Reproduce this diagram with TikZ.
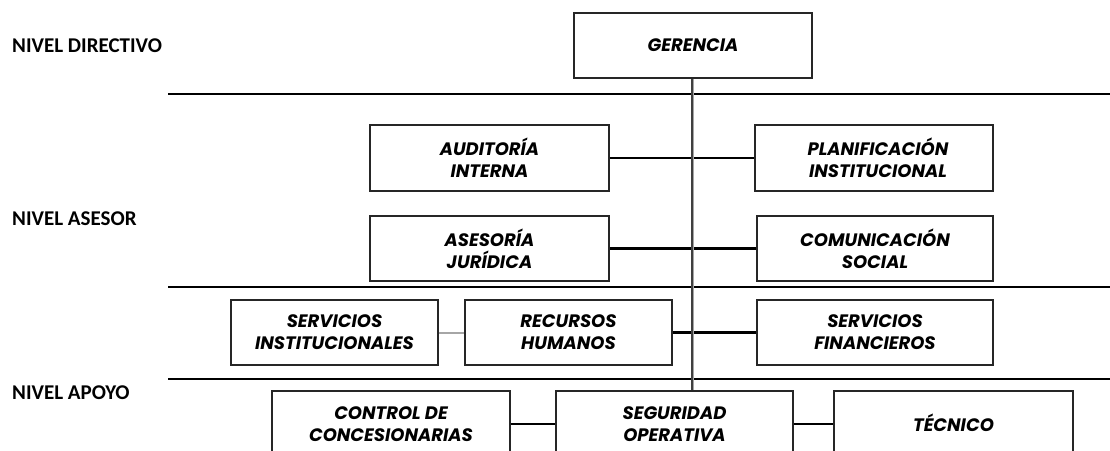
\documentclass[tikz,border=0pt]{standalone}
\usepackage{fontspec}
\setmainfont{Carlito}
\newfontfamily\boxfamily{Poppins}
\tikzset{
  orgbox/.style={draw=black!85, line width=1.5pt, fill=white, inner sep=0pt, align=center,
    minimum height=65pt, font=\boxfamily\bfseries\itshape\fontsize{18}{22}\selectfont},
  levellbl/.style={anchor=west, inner sep=0pt, font=\bfseries\fontsize{21}{24}\selectfont},
  levelline/.style={line width=1.4pt, black},
  link/.style={line width=2.2pt, black},
  thinlink/.style={line width=1.3pt, black},
  graylink/.style={line width=2pt, gray!70},
}
\begin{document}
\begin{tikzpicture}[x=1pt,y=-1pt]
\useasboundingbox (0,0) rectangle (1110,450);
\clip (0,0) rectangle (1110,450);
% level lines
\coordinate (l1s) at (168,94);  \coordinate (l1e) at (1110,94);
\coordinate (l2s) at (168,287); \coordinate (l2e) at (1110,287);
\coordinate (l3s) at (168,379); \coordinate (l3e) at (1110,379);
\draw[levelline] (l1s) -- (l1e);
\draw[levelline] (l2s) -- (l2e);
\draw[levelline] (l3s) -- (l3e);
% level labels
\node[levellbl] (ld) at (12,46) {NIVEL DIRECTIVO};
\node[levellbl] (la) at (12,219) {NIVEL ASESOR};
\node[levellbl] (lp) at (12,393) {NIVEL APOYO};
% boxes
\node[orgbox, minimum width=238pt] (ger) at (693,45.5) {GERENCIA};
\node[orgbox, minimum width=239pt, minimum height=66pt] (aud) at (489.5,158) {AUDITORÍA\\INTERNA};
\node[orgbox, minimum width=238pt, minimum height=66pt] (pla) at (874,158) {\hspace*{8pt}PLANIFICACIÓN\\\hspace*{8pt}INSTITUCIONAL};
\node[orgbox, minimum width=239pt] (ase) at (489.5,248.5) {ASESORÍA\\JURÍDICA};
\node[orgbox, minimum width=236pt] (com) at (875,248.5) {COMUNICACIÓN\\SOCIAL};
\node[orgbox, minimum width=207pt] (sin) at (334.5,332.5) {SERVICIOS\\INSTITUCIONALES};
\node[orgbox, minimum width=207pt] (rrhh) at (568.5,332.5) {RECURSOS\\HUMANOS};
\node[orgbox, minimum width=236pt] (sfi) at (875,332.5) {SERVICIOS\\FINANCIEROS};
\node[orgbox, minimum width=238pt, minimum height=66pt] (con) at (391,424) {CONTROL DE\\CONCESIONARIAS};
\node[orgbox, minimum width=237pt, minimum height=66pt] (seg) at (674.5,424) {SEGURIDAD\\OPERATIVA};
\node[orgbox, minimum width=239pt, minimum height=66pt] (tec) at (953.5,424) {\raisebox{3pt}{TÉCNICO}};
% connectors
\draw[thinlink] (aud.east) -- (pla.west);
\draw[link] (ase.east) -- (com.west);
\draw[graylink] (sin.east) -- (rrhh.west);
\draw[link] (rrhh.east) -- (sfi.west);
\draw[link] (con.east) -- (seg.west);
\draw[link] (seg.east) -- (tec.west);
% main vertical line
\coordinate (vtop) at ([xshift=-1pt]ger.south);
\draw[line width=3pt, gray!70] (vtop) -- (vtop |- seg.north);
\draw[line width=1.2pt, black!75] (vtop) -- (vtop |- seg.north);
\end{tikzpicture}
\end{document}
